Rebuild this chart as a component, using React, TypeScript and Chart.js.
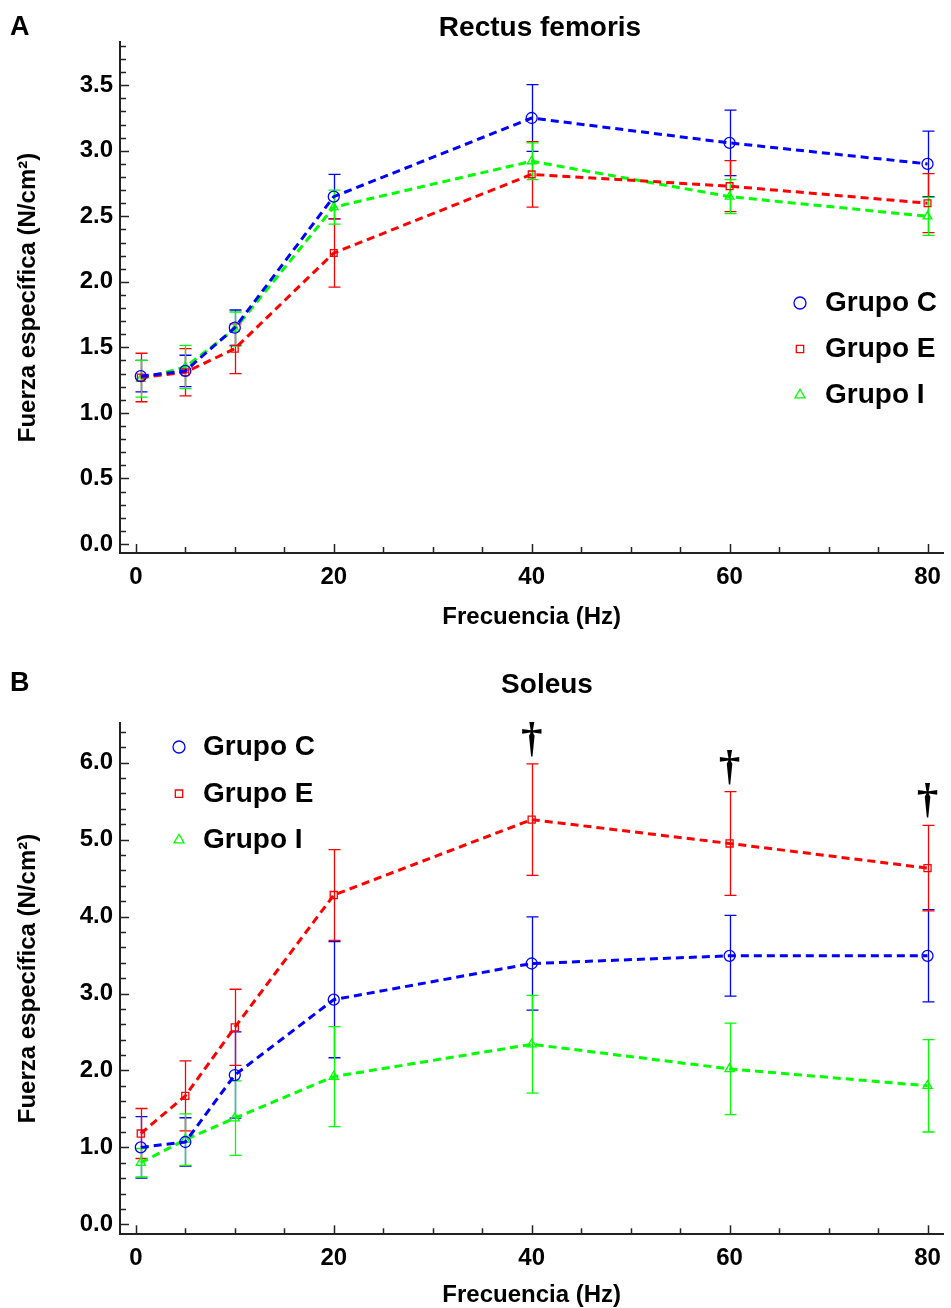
import React, { useEffect, useRef } from "react";
import { Chart, registerables } from "chart.js";

Chart.register(...registerables);

const FONT = "'Liberation Sans', Arial, Helvetica, sans-serif";
const SERIF = "'Liberation Serif', 'DejaVu Serif', serif";

// ---------- data ----------
const frequencies = [0.5, 5, 10, 20, 40, 60, 80];
const groupNames = ["Grupo C", "Grupo E", "Grupo I"];

// Panel A: Rectus femoris (mean, SD)
const rectusC = [1.28, 1.32, 1.65, 2.65, 3.25, 3.06, 2.9];
const rectusCsd = [0.12, 0.12, 0.135, 0.17, 0.255, 0.25, 0.25];
const rectusE = [1.27, 1.31, 1.49, 2.22, 2.82, 2.73, 2.6];
const rectusEsd = [0.185, 0.18, 0.19, 0.26, 0.25, 0.195, 0.225];
const rectusI = [1.26, 1.35, 1.64, 2.57, 2.92, 2.65, 2.5];
const rectusIsd = [0.14, 0.165, 0.13, 0.13, 0.14, 0.13, 0.145];

// Panel B: Soleus (mean, SD)
const soleusC = [1.0, 1.07, 1.94, 2.92, 3.39, 3.49, 3.49];
const soleusCsd = [0.4, 0.315, 0.56, 0.755, 0.605, 0.525, 0.6];
const soleusE = [1.18, 1.67, 2.56, 4.28, 5.26, 4.95, 4.63];
const soleusEsd = [0.325, 0.455, 0.495, 0.59, 0.725, 0.675, 0.555];
const soleusI = [0.8, 1.1, 1.38, 1.92, 2.34, 2.02, 1.8];
const soleusIsd = [0.185, 0.335, 0.485, 0.65, 0.635, 0.595, 0.6];
const soleusDaggerAt = [40, 60, 80]; // Grupo E marked with †

// ticks
const xMajorStep = 20;
const xMinorStep = 5;
const rectusYMajor = 0.5;
const rectusYMinor = 0.1;
const soleusYMajor = 1.0;
const soleusYMinor = 0.2;

const yTitle = "Fuerza específica (N/cm²)";
const xTitle = "Frecuencia (Hz)";

// ---------- styling ----------
const BLUE = "#0000ff";
const RED = "#ff0000";
const GREEN = "#00ff00";
const AXIS = "#222222";

type Style = "circle" | "rect" | "triangle";
type SeriesSpec = {
  name: string;
  mean: number[];
  sd: number[];
  color: string;
  style: Style;
  radius: number;
  legendRadius: number;
};

type PanelSpec = {
  letter: string;
  title: string;
  titleX: number;
  titleY: number;
  letterX: number;
  letterY: number;
  series: SeriesSpec[];
  yMin: number;
  yMax: number;
  yMajor: number;
  yMinor: number;
  xMin: number;
  xMax: number;
  height: number;
  padTop: number;
  xAxisHeight: number;
  xTitlePad: number;
  legendX: number;
  legendTextX: number;
  legendBaselines: number[];
  daggerAt?: number[];
  daggerSeries?: number;
};

const isMultiple = (v: number, step: number) =>
  Math.abs(v / step - Math.round(v / step)) < 1e-6;

function drawMarker(ctx: CanvasRenderingContext2D, style: Style, x: number, y: number, r: number) {
  ctx.beginPath();
  if (style === "circle") {
    ctx.arc(x, y, r, 0, Math.PI * 2);
  } else if (style === "rect") {
    const s = r * Math.SQRT1_2;
    ctx.rect(x - s, y - s, 2 * s, 2 * s);
  } else {
    ctx.moveTo(x, y - r);
    ctx.lineTo(x + 0.866 * r, y + 0.5 * r);
    ctx.lineTo(x - 0.866 * r, y + 0.5 * r);
    ctx.closePath();
  }
  ctx.stroke();
}

function makeDecor(spec: PanelSpec) {
  return {
    id: "decor" + spec.letter,
    beforeDatasetsDraw(chart: any) {
      const ctx: CanvasRenderingContext2D = chart.ctx;
      const xs = chart.scales.x;
      const ys = chart.scales.y;
      ctx.save();
      ctx.lineWidth = 1.3;
      spec.series.forEach((s) => {
        ctx.strokeStyle = s.color;
        frequencies.forEach((f, i) => {
          const px = Math.round(xs.getPixelForValue(f)) + 0.5;
          const top = ys.getPixelForValue(s.mean[i] + s.sd[i]);
          const bot = ys.getPixelForValue(s.mean[i] - s.sd[i]);
          ctx.beginPath();
          ctx.moveTo(px, top);
          ctx.lineTo(px, bot);
          ctx.moveTo(px - 6, top);
          ctx.lineTo(px + 6, top);
          ctx.moveTo(px - 6, bot);
          ctx.lineTo(px + 6, bot);
          ctx.stroke();
        });
      });
      ctx.restore();
    },
    afterDraw(chart: any) {
      const ctx: CanvasRenderingContext2D = chart.ctx;
      const xs = chart.scales.x;
      const ys = chart.scales.y;
      const area = chart.chartArea;
      ctx.save();
      // inward tick marks
      ctx.strokeStyle = AXIS;
      ctx.lineWidth = 1.5;
      xs.ticks.forEach((t: any) => {
        const px = Math.round(xs.getPixelForValue(t.value)) + 0.5;
        const len = isMultiple(t.value, xMajorStep) ? 9 : 6;
        ctx.beginPath();
        ctx.moveTo(px, area.bottom);
        ctx.lineTo(px, area.bottom - len);
        ctx.stroke();
      });
      ys.ticks.forEach((t: any) => {
        const py = Math.round(ys.getPixelForValue(t.value)) + 0.5;
        const len = isMultiple(t.value, spec.yMajor) ? 9 : 6;
        ctx.beginPath();
        ctx.moveTo(area.left, py);
        ctx.lineTo(area.left + len, py);
        ctx.stroke();
      });

      // panel letter and title
      ctx.fillStyle = "#000";
      ctx.textBaseline = "middle";
      ctx.textAlign = "left";
      ctx.font = `bold 27px ${FONT}`;
      ctx.fillText(spec.letter, spec.letterX, spec.letterY);
      ctx.textAlign = "center";
      ctx.font = `bold 28px ${FONT}`;
      ctx.fillText(spec.title, spec.titleX, spec.titleY);

      // legend
      ctx.textAlign = "left";
      ctx.textBaseline = "alphabetic";
      spec.series.forEach((s, i) => {
        const base = spec.legendBaselines[i];
        ctx.strokeStyle = s.color;
        ctx.lineWidth = 1.3;
        drawMarker(ctx, s.style, spec.legendX, base - 8, s.legendRadius);
        ctx.fillStyle = "#000";
        ctx.font = `bold 28px ${FONT}`;
        ctx.fillText(s.name, spec.legendTextX, base);
      });

      // daggers
      if (spec.daggerAt && spec.daggerSeries !== undefined) {
        const s = spec.series[spec.daggerSeries];
        ctx.font = `bold 100px ${SERIF}`;
        const m0 = ctx.measureText("†");
        const h0 = m0.actualBoundingBoxAscent + m0.actualBoundingBoxDescent;
        const size = (100 * 35) / (h0 || 83);
        ctx.font = `bold ${size}px ${SERIF}`;
        const m = ctx.measureText("†");
        ctx.fillStyle = "#000";
        ctx.textAlign = "center";
        spec.daggerAt.forEach((f) => {
          const i = frequencies.indexOf(f);
          const px = xs.getPixelForValue(f);
          const capY = ys.getPixelForValue(s.mean[i] + s.sd[i]);
          ctx.fillText("†", px, capY - 7 - m.actualBoundingBoxDescent);
        });
      }
      ctx.restore();
    },
  };
}

function makeConfig(spec: PanelSpec): any {
  const datasets = spec.series.map((s) => ({
    label: s.name,
    data: frequencies.map((f, i) => ({ x: f, y: s.mean[i] })),
    borderColor: s.color,
    backgroundColor: s.color,
    borderWidth: 3,
    borderDash: [8, 5],
    pointStyle: s.style,
    pointRadius: s.radius,
    pointBorderWidth: 1.3,
    pointBorderColor: s.color,
    pointBackgroundColor: "rgba(0,0,0,0)",
    fill: false,
    tension: 0,
    showLine: true,
  }));
  const tickFont = { family: FONT, size: 24, weight: "bold" as const };
  return {
    type: "line",
    data: { datasets },
    options: {
      animation: false,
      responsive: false,
      events: [],
      layout: { padding: { left: 0, right: 3, top: spec.padTop, bottom: 0 } },
      plugins: {
        legend: { display: false },
        tooltip: { enabled: false },
        title: { display: false },
      },
      scales: {
        x: {
          type: "linear",
          min: spec.xMin,
          max: spec.xMax,
          afterFit: (sc: any) => {
            sc.height = spec.xAxisHeight;
          },
          grid: { display: false, drawTicks: false },
          border: { display: true, color: AXIS, width: 2 },
          ticks: {
            stepSize: xMinorStep,
            includeBounds: false,
            autoSkip: false,
            maxRotation: 0,
            padding: 10,
            color: "#000",
            font: tickFont,
            callback: (v: number) => (isMultiple(v, xMajorStep) ? String(Math.round(v)) : ""),
          },
          title: {
            display: true,
            text: xTitle,
            color: "#000",
            font: { family: FONT, size: 24, weight: "bold", lineHeight: 1 },
            padding: { top: 0, bottom: spec.xTitlePad },
          },
        },
        y: {
          type: "linear",
          min: spec.yMin,
          max: spec.yMax,
          afterFit: (sc: any) => {
            sc.width = 120;
          },
          grid: { display: false, drawTicks: false },
          border: { display: true, color: AXIS, width: 2 },
          ticks: {
            stepSize: spec.yMinor,
            includeBounds: false,
            autoSkip: false,
            padding: 7,
            color: "#000",
            font: tickFont,
            callback: (v: number) => (isMultiple(v, spec.yMajor) ? v.toFixed(1) : ""),
          },
          title: {
            display: true,
            text: yTitle,
            color: "#000",
            font: { family: FONT, size: 24, weight: "bold", lineHeight: 1 },
            padding: { top: 16, bottom: 0 },
          },
        },
      },
    },
    plugins: [makeDecor(spec)],
  };
}

const panelA: PanelSpec = {
  letter: "A",
  title: "Rectus femoris",
  titleX: 540,
  titleY: 28,
  letterX: 10,
  letterY: 28,
  series: [
    { name: groupNames[0], mean: rectusC, sd: rectusCsd, color: BLUE, style: "circle", radius: 5.5, legendRadius: 6 },
    { name: groupNames[1], mean: rectusE, sd: rectusEsd, color: RED, style: "rect", radius: 4.8, legendRadius: 5.2 },
    { name: groupNames[2], mean: rectusI, sd: rectusIsd, color: GREEN, style: "triangle", radius: 5, legendRadius: 5.8 },
  ],
  yMin: -0.069,
  yMax: 3.83,
  yMajor: rectusYMajor,
  yMinor: rectusYMinor,
  xMin: -1.6,
  xMax: 81.6,
  height: 654,
  padTop: 42,
  xAxisHeight: 101,
  xTitlePad: 25,
  legendX: 800,
  legendTextX: 825,
  legendBaselines: [311, 357, 403],
};

const panelB: PanelSpec = {
  letter: "B",
  title: "Soleus",
  titleX: 547,
  titleY: 31,
  letterX: 10,
  letterY: 30,
  series: [
    { name: groupNames[0], mean: soleusC, sd: soleusCsd, color: BLUE, style: "circle", radius: 5.5, legendRadius: 6 },
    { name: groupNames[1], mean: soleusE, sd: soleusEsd, color: RED, style: "rect", radius: 5, legendRadius: 5.2 },
    { name: groupNames[2], mean: soleusI, sd: soleusIsd, color: GREEN, style: "triangle", radius: 5.3, legendRadius: 5.8 },
  ],
  yMin: -0.13,
  yMax: 6.52,
  yMajor: soleusYMajor,
  yMinor: soleusYMinor,
  xMin: -1.6,
  xMax: 81.6,
  height: 654,
  padTop: 68.7,
  xAxisHeight: 73.7,
  xTitlePad: 1,
  legendX: 179,
  legendTextX: 203,
  legendBaselines: [755 - 654, 801.7 - 654, 848 - 654],
  daggerAt: soleusDaggerAt,
  daggerSeries: 1,
};

function Panel({ spec, top }: { spec: PanelSpec; top: number }) {
  const ref = useRef<HTMLCanvasElement | null>(null);
  useEffect(() => {
    if (!ref.current) return;
    const chart = new Chart(ref.current, makeConfig(spec));
    return () => chart.destroy();
  }, [spec]);
  return (
    <canvas
      ref={ref}
      width={951}
      height={spec.height}
      style={{ position: "absolute", left: 0, top, width: 951, height: spec.height, display: "block" }}
    />
  );
}

export default function App() {
  return (
    <div style={{ position: "absolute", left: 0, top: 0, width: 951, height: 1308, background: "#fff", overflow: "hidden" }}>
      <Panel spec={panelA} top={0} />
      <Panel spec={panelB} top={654} />
    </div>
  );
}
